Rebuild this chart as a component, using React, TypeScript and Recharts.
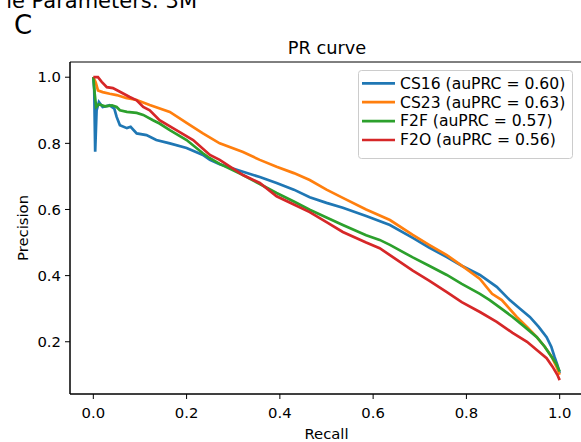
import { ComposedChart, Line, XAxis, YAxis, ReferenceArea } from 'recharts';

// PR curve values (recall, precision)
const recallCS16 = [0, 0.002, 0.004, 0.007, 0.012, 0.02, 0.035, 0.045, 0.05, 0.057, 0.072, 0.08, 0.093, 0.114, 0.135, 0.164, 0.2, 0.235, 0.25, 0.271, 0.321, 0.357, 0.393, 0.43, 0.464, 0.5, 0.535, 0.585, 0.636, 0.685, 0.72, 0.758, 0.79, 0.829, 0.865, 0.893, 0.915, 0.936, 0.955, 0.972, 0.982, 0.989, 0.995, 1.0];
const precisionCS16 = [1.0, 0.96, 0.775, 0.9, 0.925, 0.91, 0.915, 0.905, 0.88, 0.855, 0.846, 0.85, 0.83, 0.825, 0.81, 0.8, 0.786, 0.765, 0.75, 0.737, 0.714, 0.698, 0.68, 0.66, 0.637, 0.62, 0.605, 0.58, 0.553, 0.514, 0.485, 0.456, 0.43, 0.402, 0.366, 0.326, 0.3, 0.275, 0.245, 0.214, 0.185, 0.154, 0.13, 0.105];

const recallCS23 = [0, 0.005, 0.01, 0.02, 0.035, 0.05, 0.07, 0.093, 0.121, 0.164, 0.2, 0.235, 0.271, 0.321, 0.357, 0.393, 0.43, 0.464, 0.5, 0.535, 0.585, 0.636, 0.685, 0.72, 0.758, 0.79, 0.829, 0.855, 0.876, 0.908, 0.93, 0.951, 0.968, 0.983, 0.993, 1.0];
const precisionCS23 = [1.0, 0.985, 0.96, 0.955, 0.95, 0.946, 0.937, 0.931, 0.916, 0.895, 0.862, 0.83, 0.8, 0.774, 0.75, 0.729, 0.71, 0.689, 0.66, 0.635, 0.6, 0.568, 0.523, 0.493, 0.462, 0.43, 0.39, 0.345, 0.326, 0.275, 0.245, 0.214, 0.185, 0.154, 0.125, 0.1];

const recallF2F = [0, 0.003, 0.006, 0.012, 0.025, 0.04, 0.05, 0.057, 0.072, 0.093, 0.107, 0.128, 0.142, 0.164, 0.2, 0.235, 0.25, 0.271, 0.321, 0.357, 0.393, 0.43, 0.464, 0.5, 0.535, 0.585, 0.614, 0.636, 0.685, 0.72, 0.758, 0.79, 0.829, 0.85, 0.875, 0.899, 0.925, 0.951, 0.968, 0.98, 0.992, 1.0];
const precisionF2F = [1.0, 0.95, 0.91, 0.918, 0.912, 0.915, 0.91, 0.9, 0.895, 0.892, 0.886, 0.87, 0.86, 0.84, 0.81, 0.77, 0.755, 0.738, 0.704, 0.677, 0.65, 0.624, 0.599, 0.576, 0.553, 0.522, 0.508, 0.493, 0.455, 0.43, 0.402, 0.375, 0.345, 0.326, 0.3, 0.275, 0.245, 0.214, 0.185, 0.16, 0.135, 0.11];

const recallF2O = [0, 0.01, 0.018, 0.029, 0.042, 0.057, 0.078, 0.093, 0.107, 0.121, 0.142, 0.178, 0.214, 0.25, 0.271, 0.321, 0.357, 0.393, 0.43, 0.464, 0.5, 0.535, 0.585, 0.614, 0.636, 0.685, 0.72, 0.758, 0.79, 0.829, 0.865, 0.899, 0.93, 0.951, 0.972, 0.985, 0.995, 1.0];
const precisionF2O = [1.0, 1.0, 0.986, 0.97, 0.967, 0.956, 0.94, 0.93, 0.91, 0.9, 0.87, 0.84, 0.81, 0.765, 0.75, 0.704, 0.68, 0.64, 0.615, 0.592, 0.562, 0.532, 0.5, 0.483, 0.462, 0.415, 0.385, 0.35, 0.32, 0.29, 0.26, 0.227, 0.2, 0.175, 0.15, 0.124, 0.1, 0.084];

const seriesNames = ['CS16 (auPRC = 0.60)', 'CS23 (auPRC = 0.63)', 'F2F (auPRC = 0.57)', 'F2O (auPRC = 0.56)'];
const seriesColors = ['#1f77b4', '#ff7f0e', '#2ca02c', '#d62728'];

const xTicks = [0, 0.2, 0.4, 0.6, 0.8, 1.0];
const yTicks = [0.2, 0.4, 0.6, 0.8, 1.0];
const xDomain = [-0.05, 1.05];
const yDomain = [0.042, 1.046];

const FONT = '"DejaVu Sans", sans-serif';

const toPoints = (recall: number[], precision: number[]) =>
  recall.map((r, i) => ({ recall: r, precision: precision[i] }));

const series = [
  toPoints(recallCS16, precisionCS16),
  toPoints(recallCS23, precisionCS23),
  toPoints(recallF2F, precisionF2F),
  toPoints(recallF2O, precisionF2O),
];

const YLabel = ({ viewBox }: any) => {
  const x = viewBox.x + 28;
  const y = viewBox.y + viewBox.height / 2;
  return (
    <text x={x} y={y} transform={`rotate(-90, ${x}, ${y})`} textAnchor="middle" fontSize={14.8} fontFamily={FONT} fill="#000">
      Precision
    </text>
  );
};

const XLabel = ({ viewBox }: any) => (
  <text x={viewBox.x + viewBox.width / 2} y={viewBox.y + 45} textAnchor="middle" fontSize={14.8} fontFamily={FONT} fill="#000">
    Recall
  </text>
);

export default function App() {
  return (
    <div style={{ position: 'absolute', left: 0, top: 0, width: 581, height: 442, overflow: 'hidden', background: '#fff' }}>
      <ComposedChart width={600} height={442} margin={{ top: 62, right: 17, left: 0, bottom: 0 }}>
        <XAxis
          type="number"
          dataKey="recall"
          domain={xDomain}
          ticks={xTicks}
          allowDataOverflow
          height={48}
          tickSize={5}
          tickMargin={8}
          tickFormatter={(v: number) => v.toFixed(1)}
          tick={{ fontSize: 14.8, fontFamily: FONT, fill: '#000' }}
          tickLine={{ stroke: '#000' }}
          axisLine={{ stroke: '#000' }}
          label={<XLabel />}
        />
        <YAxis
          type="number"
          dataKey="precision"
          domain={yDomain}
          ticks={yTicks}
          allowDataOverflow
          width={70}
          tickSize={5}
          tickMargin={4}
          tickFormatter={(v: number) => v.toFixed(1)}
          tick={{ fontSize: 14.8, fontFamily: FONT, fill: '#000' }}
          tickLine={{ stroke: '#000' }}
          axisLine={{ stroke: '#000' }}
          label={<YLabel />}
        />
        <ReferenceArea x1={xDomain[0]} x2={xDomain[1]} y1={yDomain[0]} y2={yDomain[1]} fill="none" stroke="#000" strokeWidth={1} ifOverflow="visible" />
        {series.map((pts, i) => (
          <Line
            key={seriesNames[i]}
            data={pts}
            dataKey="precision"
            name={seriesNames[i]}
            type="linear"
            stroke={seriesColors[i]}
            strokeWidth={2.7}
            dot={false}
            activeDot={false}
            isAnimationActive={false}
          />
        ))}
      </ComposedChart>
      <svg width={581} height={442} style={{ position: 'absolute', left: 0, top: 0, pointerEvents: 'none' }} fontFamily={FONT}>
        <text x={197} y={8} textAnchor="end" fontSize={21} fill="#000">le Parameters: 3M</text>
        <text x={14} y={34} fontSize={26} fill="#000">C</text>
        <text x={327} y={54} textAnchor="middle" fontSize={17.8} fill="#000">PR curve</text>
        <rect x={358.5} y={70.5} width={214} height={88} rx={3} fill="#fff" fillOpacity={0.8} stroke="#cccccc" />
        {seriesNames.map((name, i) => (
          <g key={name}>
            <line x1={362} x2={395} y1={83.3 + i * 18.9} y2={83.3 + i * 18.9} stroke={seriesColors[i]} strokeWidth={2.7} />
            <text x={400} y={88.6 + i * 18.9} fontSize={15.6} fill="#000">{name}</text>
          </g>
        ))}
      </svg>
    </div>
  );
}
